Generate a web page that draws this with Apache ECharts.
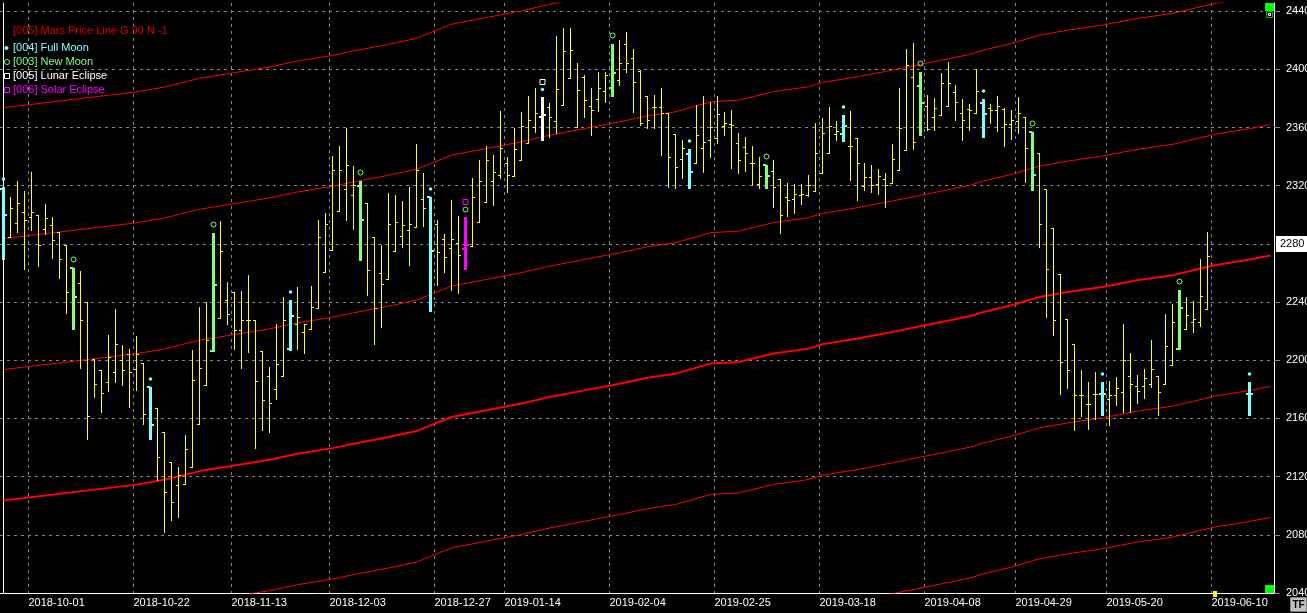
<!DOCTYPE html>
<html><head><meta charset="utf-8">
<script src="https://cdn.jsdelivr.net/npm/echarts@6/dist/echarts.min.js"></script>
<style>html,body{margin:0;padding:0;background:#000;overflow:hidden}#c{width:1307px;height:613px}</style>
</head><body><div id="c"></div>
<script>
// ---- calendar (trading days) ----
const firstDay = '2018-09-25';
const slotCount = 182;
const holidays = ['2018-11-01','2018-11-12','2018-12-24','2018-12-25','2018-12-26','2018-12-31','2019-01-01','2019-04-19','2019-04-22','2019-05-01','2019-05-03','2019-06-20'];
const tickLabels = ['2018-10-01','2018-10-22','2018-11-13','2018-12-03','2018-12-27','2019-01-14','2019-02-04','2019-02-25','2019-03-18','2019-04-08','2019-04-29','2019-05-20','2019-06-10'];
const yTicks = {min: 2040, max: 2445.6, step: 40, highlighted: 2280};

// ---- OHLC (index aligned with trading days) ----
const open = [2318,2284.8,2294.7,2301.6,2298.6,2300.2,2289.9,2293.3,2288.5,2278.9,
2263.5,2253.4,2240.1,2201.1,2193,2185,2192,2200,2204.5,2194,
2198.4,2181.6,2167.4,2150.6,2130,2114,2114.6,2126.6,2156.4,2183.2,
2206.1,2229.1,2241.2,2247,2220.6,2227.5,2227.5,2206.1,2189.2,2180.5,
2189.2,2208,2224.7,2219.5,2221.5,2236.2,2260.7,2275.6,2302.7,2317.4,
2313.5,2319.7,2307.8,2284.4,2260.3,2256.1,2275,2285.3,2289.5,2291.3,
2311.2,2312.4,2293.6,2283.7,2277.5,2280.7,2276.8,2278.4,2295.2,2309,
2323.4,2327.3,2335.7,2326.6,2338,2349.5,2360.5,2366.9,2374,2364.6,
2375.4,2393.8,2360.5,2394.9,2375,2379.3,2385,2386.9,2392.6,2417.4,
2407.5,2399,2381.6,2373.8,2373.8,2370.1,2355.5,2338.7,2341.7,2335.7,
2345.6,2351.3,2352.5,2361,2362.3,2349.5,2346.3,2335.3,2321,2334.1,
2330,2324.3,2311.9,2311.2,2313.5,2313.5,2316.5,2328.8,2342.6,2355.5,
2355.5,2347.2,2352.5,2320,2326.1,2321.5,2324.3,2322,2330.7,2344.4,
2395,2388.5,2375,2366.9,2368.5,2374.7,2384.6,2370,2373,2370.1,
2377,2373.1,2372,2372.4,2362.3,2364.6,2367.4,2356.6,2342.2,2317.4,
2290.6,2259.1,2228.6,2210.9,2175.9,2170,2177,2177,2173.6,2175.9,
2178.2,2189,2182,2182,2183.4,2188.9,2183.4,2196.5,2208,2221.7,
2226.3,2226.3,2235.5,null,null,null,null,null,2177];
const high = [2319.3,2312.1,2323.2,2316.3,2329.1,2300.2,2307.3,2298.4,2288.5,2278.9,
2263.5,2261.2,2240.1,2201.1,2193,2217.2,2235.5,2210.3,2208,2216.5,
2198.4,2181.6,2167.4,2150.6,2130,2126.6,2148.3,2207.3,2236.7,2240.1,
2287.6,2295.6,2253.9,2247,2247.7,2258.4,2227.5,2206.1,2195.4,2224.7,
2243.5,2241.2,2250.4,2224.7,2250.9,2296.3,2300.9,2340.3,2347.2,2360,
2333.4,2323.1,2307.8,2284.4,2278.9,2315.3,2313.5,2309.4,2318.8,2349,
2328.4,2312.4,2296.3,2286.7,2310.1,2299.1,2298.6,2325,2337.6,2347.2,
2341,2371.5,2339.4,2360,2370.8,2381.6,2386.9,2380.7,2377,2422.9,
2428.2,2428.2,2404.1,2396.1,2386.9,2398.3,2398.3,2417.4,2420.1,2425.9,
2413.7,2399.5,2381.6,2382.3,2386.9,2370.1,2355.5,2351.3,2344.9,2375.4,
2381.6,2377.7,2381.6,2370.8,2372,2355.9,2353.2,2347.2,2339.9,2334.1,
2338,2324.3,2322,2321.1,2321.1,2327.3,2362.8,2366.2,2373.8,2364.6,
2368.5,2371.5,2352.5,2335.3,2334.1,2331.8,2328.8,2348.6,2386.9,2413.7,
2418,2398.4,2382.3,2380,2397.7,2405.3,2389.2,2379.3,2376,2400,
2379.3,2376.1,2381.6,2373.1,2372,2381.1,2367.4,2357.1,2342.2,2317.4,
2290.6,2259.1,2228.6,2210.9,2193.5,2185,2191.9,2185,2185.7,2188.5,
2225.2,2205,2189.6,2194.2,2213.7,2188.9,2232,2238.5,2248.1,2243.5,
2240.8,2269.9,2288.3,null,null,null,null,null,2185];
const low = [2269.5,2284.8,2288.3,2262.8,2289.4,2264.9,2287.1,2270.4,2256.6,2232.6,
2221.8,2194.7,2146.1,2174.7,2164.4,2179,2185,2182.8,2167.8,2179.3,
2156.4,2146.1,2117.9,2081.8,2090.3,2092.2,2114.6,2126.6,2156.4,2183.2,
2206.1,2229.1,2224.7,2208,2194.9,2205.7,2139.6,2151.8,2150.6,2173.6,
2189.2,2207.3,2208,2205,2221.5,2236.2,2260.7,2275.6,2302.7,2296.3,
2290.5,2269.2,2244.7,2211,2222.9,2256.1,2275,2278,2265.8,2291.3,
2292.2,2233.7,2251.6,2260.8,2248.6,2245.9,2262.6,2278.4,2295.2,2309,
2306.7,2325,2315.8,2326.6,2338,2349.5,2357.1,2351.3,2353.6,2355.9,
2375.4,2393.8,2360.5,2367.4,2354.8,2371.5,2377.7,2381.6,2389.2,2398.3,
2370.8,2361.6,2360,2360,2341,2319.2,2318.1,2325,2318.1,2335.7,
2329.5,2339.9,2349.5,2354.8,2332.5,2328.8,2330.2,2320.4,2318.1,2318.1,
2305.5,2287.6,2299,2301.3,2307.3,2312.8,2316.5,2328.8,2342.6,2351.3,
2350.9,2323.8,2310.5,2316.9,2315.8,2314.2,2305.5,2322,2330.7,2344.4,
2345,2354.8,2358.2,2358.2,2368.5,2374.7,2365.1,2351.7,2358,2370.1,
2353.2,2362.8,2357.8,2347.2,2351.8,2356.4,2322.7,2316.9,2277.9,2229.8,
2217.2,2177,2181.1,2152.2,2161.4,2153,2159.8,2162.1,2155.2,2169,
2164.4,2164.4,2170.6,2174.3,2181.6,2162.1,2183.4,2196.5,2208,2221.7,
2219.5,2223.4,2235.5,null,null,null,null,null,2162.1];
const close = [2299.8,2305,2307.8,2296.1,2301.6,2278.9,2297.5,2283,2269.9,2247.2,
2243.3,2228,2161.7,2183.9,2177.5,2202,2211,2193,2192,2204.5,
2163.3,2155.2,2133.5,2109.4,2102.5,2120.8,2139.2,2186.2,2195,2213.7,
2252,2275,2231.6,2220.6,2227.5,2227.5,2185.7,2172.4,2170.6,2197.7,
2227.5,2230.2,2229.8,2224.7,2236.7,2284.8,2294,2331.1,2331.1,2334.1,
2320.4,2296.3,2261.9,2236.2,2252.7,2294,2295.1,2292.9,2293.6,2330.7,
2305,2275,2274.1,2271.1,2283.7,2272.7,2279.1,2312.4,2323.4,2338,
2329.6,2345.6,2327.3,2344.9,2361,2365.1,2370,2368.5,2367.4,2386.2,
2412.8,2413.3,2385.7,2378.9,2372,2386.9,2396,2397.2,2404.5,2404.1,
2391.5,2362.8,2365,2373.8,2370,2339.4,2333,2345.6,2329.5,2354.8,
2350,2360.5,2369.2,2362.8,2362,2337.6,2342.2,2335.7,2326.5,2326.6,
2319.2,2299.7,2310,2314.6,2314.2,2320.4,2342.2,2356.4,2361,2357.8,
2361,2347,2335.3,2326.1,2320.4,2326.6,2320.4,2338.7,2360,2403,
2350,2376.6,2358.7,2373.1,2390.8,2390.8,2377.7,2365.5,2372,2385,
2369.2,2372,2375,2362.3,2365.5,2370.1,2345.6,2327.3,2293.5,2263,
2228,2198.8,2193.5,2175.9,2176,2170,2177,2177,2176,2181.1,
2200,2183.4,2178.8,2188,2194.2,2178.2,2209.6,2226,2236.2,2231,
2228.6,2244,2271.5,null,null,null,null,null,2177];

// ---- moon / eclipse days ----
const fullMoonDays = ['2018-09-25','2018-10-24','2018-11-23','2018-12-21','2019-02-19','2019-03-21','2019-04-18','2019-05-17','2019-06-17'];
const newMoonDays = ['2018-10-09','2018-11-07','2018-12-07','2019-02-04','2019-03-06','2019-04-05','2019-05-02','2019-06-03'];
const lunarEclipseDays = ['2019-01-21'];
const solarEclipseDays = ['2019-01-04'];

// ---- Mars price line (base, read at trading-day index) + graduations ----
const marsIdx = [0,19,23,28,33,38,42,47,50,55,59,61,64,69,74,78,83,88,92,96,101,105,110,115,117,122,127,131,134,138,140,144,148,152,157,162,167,173,178,181];
const marsVal = [2103.6,2114.5,2117.8,2123.8,2127.7,2131.6,2135.7,2139.6,2142.6,2147.2,2151.3,2155.2,2161,2165.6,2170.2,2174.7,2179.3,2183.9,2188,2190.8,2197.7,2198.8,2204.6,2208,2211,2214.9,2219.5,2223.4,2226.3,2230.2,2233.2,2237.8,2243.5,2246.9,2250.4,2255,2258.4,2265.3,2269.2,2272];
const marsOffsets = [-180,-90,0,90,180,270];

// ---- build ----
const dates = [];
(function(){ let t = Date.parse(firstDay + 'T00:00:00Z');
  while (dates.length < slotCount) { const d = new Date(t); const s = d.toISOString().slice(0,10);
    const wd = d.getUTCDay(); if (wd !== 0 && wd !== 6 && holidays.indexOf(s) < 0) dates.push(s); t += 86400000; } })();

const FONT = '"Liberation Sans", Arial, sans-serif';
const kinds = [
  {days: fullMoonDays, color: '#80ffff', marks: [{s: 'dot', c: '#80ffff', dy: 8}]},
  {days: newMoonDays, color: '#80ff80', marks: [{s: 'ring', c: '#80ff80', dy: 8.5}]},
  {days: lunarEclipseDays, color: '#ffffff', marks: [{s: 'dot', c: '#80ffff', dy: 7.5}, {s: 'square', c: '#ffffff', dy: 15}]},
  {days: solarEclipseDays, color: '#ff00ff', marks: [{s: 'ring', c: '#80ff80', dy: 7.5}, {s: 'square', c: '#ff00ff', dy: 15}]}
];
const special = new Set();
kinds.forEach(k => k.days.forEach(d => special.add(dates.indexOf(d))));

function rowOf(i) { return [i, open[i], high[i], low[i], close[i]]; }
const plain = [];
for (let i = 0; i < open.length; i++) if (open[i] != null && !special.has(i)) plain.push(rowOf(i));

function plainRender(params, api) {
  const i = api.value(0);
  const pH = api.coord([i, api.value(2)]), pL = api.coord([i, api.value(3)]);
  const pO = api.coord([i, api.value(1)]), pC = api.coord([i, api.value(4)]);
  const x = Math.floor(pH[0]) + 0.5;
  const yo = Math.round(pO[1]) + 0.5, yc = Math.round(pC[1]) + 0.5;
  const st = {stroke: '#ffff00', lineWidth: 1};
  return {type: 'group', children: [
    {type: 'line', shape: {x1: x, y1: Math.round(pH[1]), x2: x, y2: Math.round(pL[1]) + 1}, style: st},
    {type: 'line', shape: {x1: x - 2.5, y1: yo, x2: x, y2: yo}, style: st},
    {type: 'line', shape: {x1: x, y1: yc, x2: x + 2.5, y2: yc}, style: st}
  ]};
}
function moonRender(kind) {
  return function(params, api) {
    const i = api.value(0);
    const pH = api.coord([i, api.value(2)]), pL = api.coord([i, api.value(3)]);
    const pO = api.coord([i, api.value(1)]), pC = api.coord([i, api.value(4)]);
    const x = Math.floor(pH[0]) + 0.5;
    const yH = Math.round(pH[1]), yL = Math.round(pL[1]);
    const col = kind.color;
    const ch = [
      {type: 'rect', shape: {x: x - 1.5, y: yH, width: 3, height: yL - yH + 1}, style: {fill: col}},
      {type: 'rect', shape: {x: x - 3.5, y: Math.round(pO[1]) - 1, width: 3.5, height: 2}, style: {fill: col}},
      {type: 'rect', shape: {x: x, y: Math.round(pC[1]) - 1, width: 3.5, height: 2}, style: {fill: col}}
    ];
    kind.marks.forEach(m => {
      const cy = yH - m.dy;
      if (m.s === 'dot') ch.push({type: 'circle', shape: {cx: x, cy: cy, r: 1.8}, style: {fill: m.c}});
      else if (m.s === 'ring') ch.push({type: 'circle', shape: {cx: x, cy: cy, r: 2.5}, style: {fill: 'none', stroke: m.c, lineWidth: 1}});
      else ch.push({type: 'rect', shape: {x: x - 2.5, y: Math.round(cy) - 2.5, width: 5, height: 5}, style: {fill: 'none', stroke: m.c, lineWidth: 1}});
    });
    return {type: 'group', children: ch};
  };
}

const series = [];
marsOffsets.forEach(off => {
  series.push({type: 'line', data: marsIdx.map((ix, k) => [ix, marsVal[k] + off]), symbol: 'none', silent: true, z: 1,
    lineStyle: {color: '#ff0000', width: off === 0 ? 2 : 1}, clip: true});
});
series.push({type: 'custom', data: plain, renderItem: plainRender, encode: {x: 0, y: [1, 2, 3, 4]}, z: 3, silent: true});
kinds.forEach(k => {
  const rows = k.days.map(d => dates.indexOf(d)).filter(i => i >= 0 && open[i] != null).map(rowOf);
  series.push({type: 'custom', data: rows, renderItem: moonRender(k), encode: {x: 0, y: [1, 2, 3, 4]}, z: 4, silent: true});
});

const isTick = (idx, val) => tickLabels.indexOf(val) >= 0;
const gridLine = {color: '#858585', width: 1, type: [3, 4]};

const legendItems = [
  {t: '[005] Mars Price Line G 90 N -1', c: '#e00000', y: 30.5},
  {t: '[004] Full Moon', c: '#80ffff', y: 48, m: 'dot'},
  {t: '[003] New Moon', c: '#80ff80', y: 62, m: 'ring'},
  {t: '[005] Lunar Eclipse', c: '#ffffff', y: 76, m: 'square'},
  {t: '[006] Solar Eclipse', c: '#ff00ff', y: 90, m: 'square'}
];
const graphics = [];
legendItems.forEach(it => {
  graphics.push({type: 'text', x: 13, y: it.y, z: 10, style: {text: it.t, fill: it.c, font: '11px ' + FONT, verticalAlign: 'middle', align: 'left'}});
  if (it.m === 'dot') graphics.push({type: 'circle', z: 10, shape: {cx: 6.5, cy: it.y, r: 2}, style: {fill: it.c}});
  if (it.m === 'ring') graphics.push({type: 'circle', z: 10, shape: {cx: 7, cy: it.y, r: 2.5}, style: {fill: 'none', stroke: it.c, lineWidth: 1}});
  if (it.m === 'square') graphics.push({type: 'rect', z: 10, shape: {x: 4.5, y: it.y - 2.5, width: 5, height: 5}, style: {fill: 'none', stroke: it.c, lineWidth: 1}});
});
// terminal decorations
graphics.push({type: 'rect', z: 10, shape: {x: 1265, y: 3, width: 9, height: 8}, style: {fill: '#00ff00'}});
graphics.push({type: 'rect', z: 10, shape: {x: 1266.5, y: 11.5, width: 6, height: 6}, style: {fill: '#000', stroke: '#00c000', lineWidth: 1}});
graphics.push({type: 'rect', z: 10, shape: {x: 1268.5, y: 13.5, width: 2, height: 2}, style: {fill: 'none', stroke: '#fff', lineWidth: 1}});
graphics.push({type: 'rect', z: 10, shape: {x: 1265, y: 585, width: 9, height: 8}, style: {fill: '#00ff00'}});
graphics.push({type: 'rect', z: 10, shape: {x: 1213, y: 591, width: 4, height: 6}, style: {fill: '#ffff00'}});
graphics.push({type: 'rect', z: 10, shape: {x: 1290.5, y: 597.5, width: 16, height: 14}, style: {fill: '#c0c0c0', stroke: '#808080', lineWidth: 1}});
graphics.push({type: 'text', z: 11, x: 1298.5, y: 605, style: {text: 'TF', fill: '#000', font: 'bold 10px ' + FONT, align: 'center', verticalAlign: 'middle'}});

const chart = echarts.init(document.getElementById('c'), null, {renderer: 'canvas'});
chart.setOption({
  animation: false,
  backgroundColor: '#000000',
  grid: {left: 0, right: 33, top: 3, bottom: 20, containLabel: false, outerBoundsMode: 'none'},
  xAxis: {
    type: 'category', data: dates, boundaryGap: true,
    axisLine: {show: true, lineStyle: {color: '#ffffff', width: 1}},
    axisTick: {show: false},
    axisLabel: {interval: isTick, color: '#ffffff', fontSize: 11, fontFamily: FONT, align: 'left', margin: 4, padding: [0, 0, 0, -3]},
    splitLine: {show: true, interval: isTick, lineStyle: gridLine}
  },
  yAxis: [{
    type: 'value', position: 'right', min: yTicks.min, max: yTicks.max, interval: yTicks.step,
    axisLine: {show: true, lineStyle: {color: '#ffffff', width: 1}},
    axisTick: {show: true, length: 6, lineStyle: {color: '#858585'}},
    axisLabel: {show: true, showMaxLabel: false, margin: 2, color: '#fff', fontSize: 11, fontFamily: FONT,
      formatter: v => (v > 2440 ? '' : (v === yTicks.highlighted ? '{hl|' + v + '}' : '{n|' + v + '}')),
      rich: {
        n: {color: '#ffffff', fontSize: 11, fontFamily: FONT, padding: [0, 0, 0, 10]},
        hl: {color: '#000000', backgroundColor: '#ffffff', fontSize: 11, fontFamily: FONT, padding: [3, 12, 2, 4]}
      }},
    splitLine: {show: true, showMaxLine: false, lineStyle: gridLine}
  }, {
    type: 'value', position: 'left', offset: -3, min: yTicks.min, max: yTicks.max, interval: yTicks.step,
    axisLine: {show: true, lineStyle: {color: '#ffffff', width: 1}},
    axisTick: {show: false}, axisLabel: {show: false}, splitLine: {show: false}
  }],
  graphic: {elements: graphics},
  series: series
});
</script></body></html>
